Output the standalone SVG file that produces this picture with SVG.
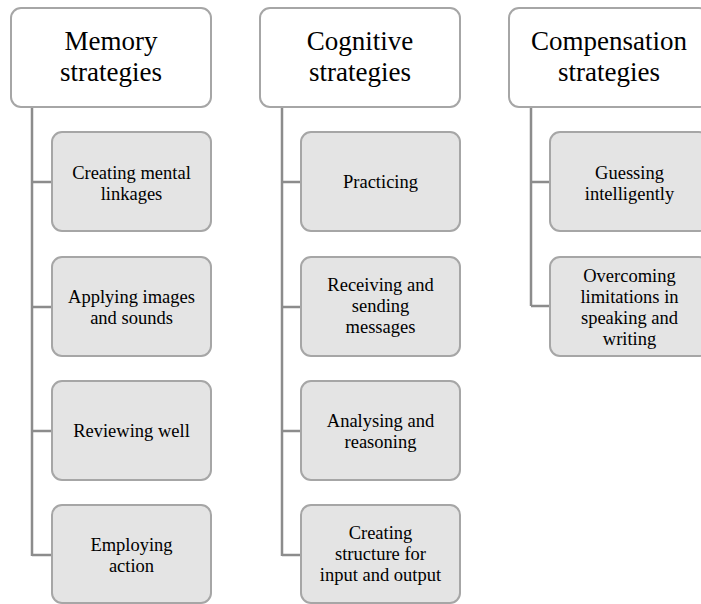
<svg xmlns="http://www.w3.org/2000/svg" width="701" height="604" viewBox="0 0 701 604">
<style>
.hdr{fill:#fff;stroke:#a6a6a6;stroke-width:2}
.ch{fill:#e4e4e4;stroke:#a6a6a6;stroke-width:2}
.ht{font-size:27px;fill:#000;text-anchor:middle}
.ct{font-size:18.5px;fill:#000;text-anchor:middle}
.cn{fill:none;stroke:#8c8c8c;stroke-width:2.5}
</style>
<rect width="701" height="604" fill="#fff"/>
<g id="connectors">
<path class="cn" d="M32,107 V556 M32,182 H52 M32,307 H52 M32,431 H52 M32,555 H52"/>
<path class="cn" d="M282,107 V556 M282,182 H301 M282,307 H301 M282,431 H301 M282,555 H301"/>
<path class="cn" d="M531,107 V306 M531,182 H550 M531,306 H550"/>
</g>
<g font-family="Liberation Serif, Times New Roman, serif">
<g id="memory">
<rect class="hdr" x="11" y="8" width="200" height="99" rx="10"/>
<text class="ht" x="111" y="50">Memory</text>
<text class="ht" x="111" y="81">strategies</text>
</g>
<g id="m1"><rect class="ch" x="52" y="132" width="159" height="99" rx="10"/>
<text class="ct" x="131.5" y="179">Creating mental</text><text class="ct" x="131.5" y="200">linkages</text></g>
<g id="m2"><rect class="ch" x="52" y="257" width="159" height="99" rx="10"/>
<text class="ct" x="131.5" y="303">Applying images</text><text class="ct" x="131.5" y="324">and sounds</text></g>
<g id="m3"><rect class="ch" x="52" y="381" width="159" height="99" rx="10"/>
<text class="ct" x="131.5" y="437">Reviewing well</text></g>
<g id="m4"><rect class="ch" x="52" y="505" width="159" height="98" rx="10"/>
<text class="ct" x="131.5" y="551">Employing</text><text class="ct" x="131.5" y="572">action</text></g>

<g id="cognitive">
<rect class="hdr" x="260" y="8" width="200" height="99" rx="10"/>
<text class="ht" x="360" y="50">Cognitive</text>
<text class="ht" x="360" y="81">strategies</text>
</g>
<g id="c1"><rect class="ch" x="301" y="132" width="159" height="99" rx="10"/>
<text class="ct" x="380.5" y="188">Practicing</text></g>
<g id="c2"><rect class="ch" x="301" y="257" width="159" height="99" rx="10"/>
<text class="ct" x="380.5" y="291">Receiving and</text><text class="ct" x="380.5" y="312">sending</text><text class="ct" x="380.5" y="333">messages</text></g>
<g id="c3"><rect class="ch" x="301" y="381" width="159" height="99" rx="10"/>
<text class="ct" x="380.5" y="427">Analysing and</text><text class="ct" x="380.5" y="448">reasoning</text></g>
<g id="c4"><rect class="ch" x="301" y="505" width="159" height="98" rx="10"/>
<text class="ct" x="380.5" y="539">Creating</text><text class="ct" x="380.5" y="560">structure for</text><text class="ct" x="380.5" y="581">input and output</text></g>

<g id="compensation">
<rect class="hdr" x="509" y="8" width="200" height="99" rx="10"/>
<text class="ht" x="609" y="50">Compensation</text>
<text class="ht" x="609" y="81">strategies</text>
</g>
<g id="p1"><rect class="ch" x="550" y="132" width="159" height="99" rx="10"/>
<text class="ct" x="629.5" y="179">Guessing</text><text class="ct" x="629.5" y="200">intelligently</text></g>
<g id="p2"><rect class="ch" x="550" y="257" width="159" height="99" rx="10"/>
<text class="ct" x="629.5" y="282">Overcoming</text><text class="ct" x="629.5" y="303">limitations in</text><text class="ct" x="629.5" y="324">speaking and</text><text class="ct" x="629.5" y="345">writing</text></g>
</g>
</svg>
